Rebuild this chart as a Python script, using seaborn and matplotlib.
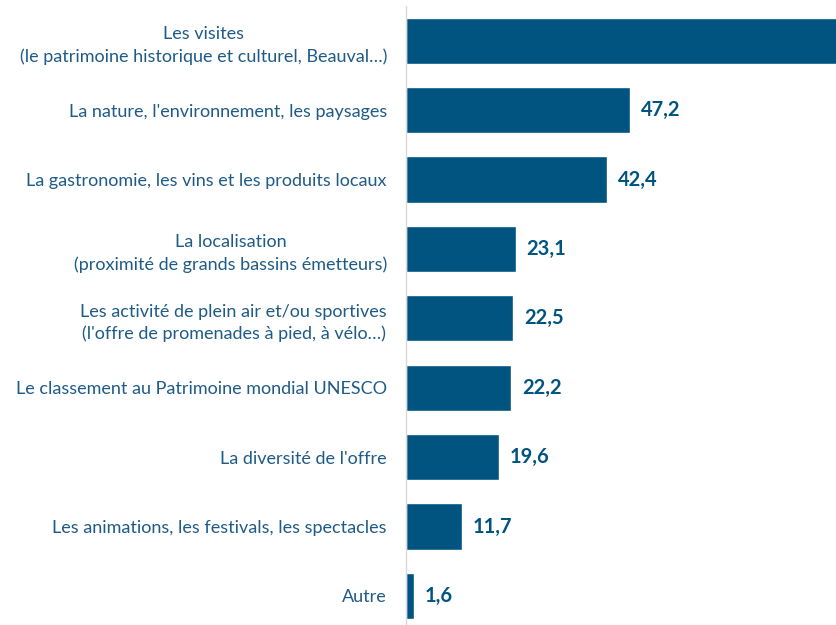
import matplotlib
matplotlib.use("Agg")
import matplotlib.pyplot as plt
import matplotlib.transforms as mtrans
import seaborn as sns
import pandas as pd

categories = [
    "Les visites\n(le patrimoine historique et culturel, Beauval…)",
    "La nature, l'environnement, les paysages",
    "La gastronomie, les vins et les produits locaux",
    "La localisation\n(proximité de grands bassins émetteurs)",
    "Les activité de plein air et/ou sportives\n(l'offre de promenades à pied, à vélo…)",
    "Le classement au Patrimoine mondial UNESCO",
    "La diversité de l'offre",
    "Les animations, les festivals, les spectacles",
    "Autre",
]
values = [94.0, 47.2, 42.4, 23.1, 22.5, 22.2, 19.6, 11.7, 1.6]
value_labels = ["94,0", "47,2", "42,4", "23,1", "22,5", "22,2", "19,6", "11,7", "1,6"]

df = pd.DataFrame({"cat": categories, "val": values})

sns.set_style("white")
plt.rcParams["font.family"] = ["Lato", "DejaVu Sans"]

bar_color = "#00547F"
text_color = "#1E5B87"
xmax = 431 / 4.75

fig = plt.figure(figsize=(8.37, 6.25), dpi=100)
ax = fig.add_axes([406 / 837, -0.009, 1 - 406 / 837, 0.9994])
sns.barplot(data=df, x="val", y="cat", color=bar_color, width=0.665,
            saturation=1, ax=ax, orient="h")

ax.set_xlim(0, xmax)
ax.set_ylim(len(categories) - 0.5, -0.5)
ax.set_xlabel("")
ax.set_ylabel("")
ax.set_xticks([])

# valeurs (celle de la 1re barre sort du cadre, comme sur l'original)
for i, (v, lab) in enumerate(zip(values, value_labels)):
    if v + 2.3 > xmax:
        continue
    ax.text(v + 2.3, i, lab, va="center", ha="left", fontsize=14.5,
            fontweight="bold", color=bar_color)

ax.set_yticks(range(len(categories)))
ax.set_yticklabels(categories, fontsize=13, color=text_color, ha="center",
                   multialignment="center", linespacing=1.45)
ax.tick_params(axis="y", length=0, pad=0)
fig.canvas.draw()

# labels centrés sur une colonne à gauche de l'axe
renderer = fig.canvas.get_renderer()
for lbl in ax.get_yticklabels():
    w = lbl.get_window_extent(renderer).width
    lbl.set_transform(lbl.get_transform() + mtrans.ScaledTranslation(
        -(19 + w / 2) / 100, 0, fig.dpi_scale_trans))

# petits traits aux limites des catégories
ax.set_yticks([i - 0.5 for i in range(len(categories) + 1)], minor=True)
ax.tick_params(axis="y", which="minor", direction="in", length=5,
               color="#D9D9D9", width=1)

for s in ["top", "right", "bottom"]:
    ax.spines[s].set_visible(False)
ax.spines["left"].set_color("#D9D9D9")
ax.spines["left"].set_linewidth(1)

fig.savefig("out.png", dpi=100)
